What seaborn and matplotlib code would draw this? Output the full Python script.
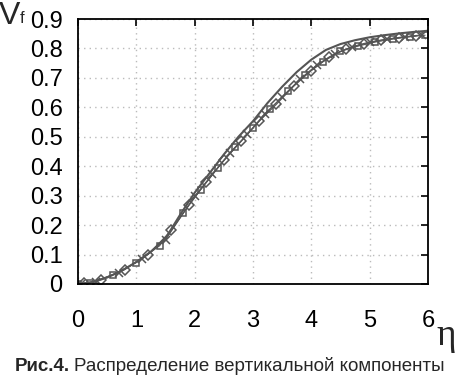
import numpy as np
import pandas as pd
import matplotlib
matplotlib.use("Agg")
import matplotlib.pyplot as plt
import seaborn as sns

# ---- data ----
eta_line = [0, 0.25, 0.5, 0.75, 1.0, 1.25, 1.5, 1.75, 2.0, 2.25, 2.5, 2.75, 3.0,
            3.25, 3.5, 3.75, 4.0, 4.25, 4.5, 4.75, 5.0, 5.25, 5.5, 5.75, 6.0]
v_line = [0, 0.006, 0.022, 0.045, 0.075, 0.11, 0.155, 0.235, 0.31, 0.375, 0.44, 0.5, 0.553,
          0.615, 0.67, 0.72, 0.762, 0.795, 0.815, 0.828, 0.838, 0.845, 0.851, 0.856, 0.86]

eta_sq = [0.0, 0.2, 0.6, 1.0, 1.4, 1.8, 2.1, 2.4, 2.7, 3.0, 3.3, 3.6, 3.9, 4.2, 4.5,
          4.8, 5.1, 5.4, 5.7, 5.95]
v_sq = [0.0, 0.004, 0.032, 0.073, 0.13, 0.24, 0.32, 0.395, 0.465, 0.53, 0.595, 0.655, 0.71,
        0.755, 0.79, 0.808, 0.822, 0.832, 0.84, 0.845]

eta_dm = [0.1, 0.4, 0.8, 1.2, 1.6, 1.9, 2.2, 2.5, 2.8, 3.1, 3.4, 3.7, 4.0, 4.3, 4.6,
          4.9, 5.2, 5.5, 5.8]
v_dm = [0.002, 0.015, 0.049, 0.1, 0.182, 0.268, 0.345, 0.42, 0.485, 0.552, 0.61, 0.672, 0.725,
        0.77, 0.798, 0.815, 0.828, 0.836, 0.843]

eta_x = [0.05, 0.3, 0.7, 1.1, 1.5, 2.0, 2.3, 2.6, 2.9, 3.2, 3.5, 3.8, 4.1, 4.4, 4.7,
         5.0, 5.3, 5.6, 5.9]
v_x = [0.001, 0.008, 0.039, 0.086, 0.15, 0.298, 0.372, 0.445, 0.508, 0.578, 0.635, 0.695, 0.745,
       0.782, 0.806, 0.822, 0.832, 0.84, 0.846]

x_ticks = [0, 1, 2, 3, 4, 5, 6]
y_ticks = [0, 0.1, 0.2, 0.3, 0.4, 0.5, 0.6, 0.7, 0.8, 0.9]
y_labels = ["0", "0.1", "0.2", "0.3", "0.4", "0.5", "0.6", "0.7", "0.8", "0.9"]

sns.set_style("white")
plt.rcParams['font.family'] = ['Liberation Sans', 'DejaVu Sans']

grey = "#555555"
fig = plt.figure(figsize=(4.66, 3.8), dpi=100)
ax = fig.add_axes([78 / 466, 1 - 284 / 380, 350 / 466, 265 / 380])

sns.lineplot(x=eta_line, y=v_line, ax=ax, color=grey, linewidth=1.5)
for ex, vy, mk, ms in [(eta_sq, v_sq, "s", 5), (eta_dm, v_dm, "D", 5), (eta_x, v_x, "x", 5.5)]:
    sns.lineplot(x=ex, y=vy, ax=ax, color=grey, linewidth=0.8, marker=mk,
                 markersize=ms, markerfacecolor="none", markeredgecolor=grey,
                 markeredgewidth=1.1)

ax.set_xlim(0, 6)
ax.set_ylim(0, 0.9)
ax.set_xticks(x_ticks)
ax.set_yticks(y_ticks)
ax.set_yticklabels(y_labels)
ax.grid(True, linestyle=(0, (1, 3)), color="#bbbbbb", linewidth=1)
for s in ax.spines.values():
    s.set_color("black")
    s.set_linewidth(1.3)
ax.tick_params(direction="in", length=5, width=1.2, top=True, right=True,
               labelsize=17, colors="black")
ax.tick_params(axis="x", pad=19)
ax.tick_params(axis="y", pad=11)
ax.set_xlabel("")
ax.set_ylabel("")

fig.text(-1 / 466, 1 - 1 / 380, "V", fontsize=23, ha="left", va="top")
fig.text(20 / 466, 1 - 11 / 380, "f", fontsize=12, ha="left", va="top")
fig.text(436 / 466, 1 - 345 / 380, "η", fontsize=27, family="Liberation Serif",
         ha="left", va="baseline")

# caption: bold prefix followed by regular text
cap_y = 1 - 371 / 380
t1 = fig.text(15 / 466, cap_y, "Рис.4.", fontsize=13.5, fontweight="bold",
              ha="left", va="baseline")
fig.canvas.draw()
bb = t1.get_window_extent(renderer=fig.canvas.get_renderer())
fig.text(bb.x1 / fig.bbox.width + 4 / 466, cap_y, "Распределение вертикальной компоненты",
         fontsize=13.5, ha="left", va="baseline")

fig.savefig("out.png", dpi=100)
